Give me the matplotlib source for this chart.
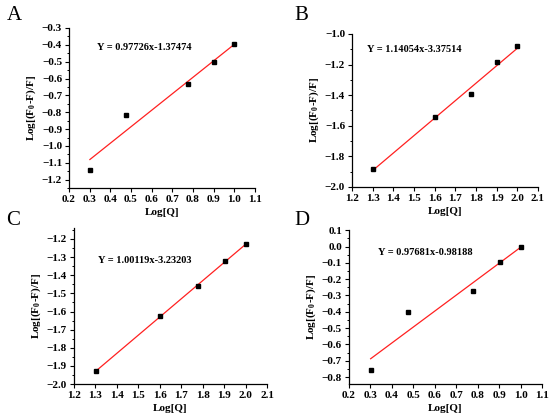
import numpy as np
import matplotlib.pyplot as plt
from matplotlib.ticker import MultipleLocator, AutoMinorLocator

# --- data --------------------------------------------------------------------
logq_a = [0.301, 0.477, 0.778, 0.903, 1.000]
logf_a = [-1.144, -0.815, -0.632, -0.503, -0.398]
fit_a = (0.97726, -1.37474)

logq_b = [1.301, 1.602, 1.778, 1.903, 2.000]
logf_b = [-1.880, -1.545, -1.395, -1.185, -1.080]
fit_b = (1.14054, -3.37514)

logq_c = [1.301, 1.602, 1.778, 1.903, 2.000]
logf_c = [-1.930, -1.625, -1.460, -1.320, -1.230]
fit_c = (1.00119, -3.23203)

logq_d = [0.301, 0.477, 0.778, 0.903, 1.000]
logf_d = [-0.755, -0.400, -0.272, -0.098, 0.000]
fit_d = (0.97681, -0.98188)

eq_a = "Y = 0.97726x-1.37474"
eq_b = "Y = 1.14054x-3.37514"
eq_c = "Y = 1.00119x-3.23203"
eq_d = "Y = 0.97681x-0.98188"

plt.rcParams['font.family'] = ['Liberation Serif', 'DejaVu Serif']
plt.rcParams['mathtext.fontset'] = 'custom'
plt.rcParams['mathtext.rm'] = 'Liberation Serif:bold'
plt.rcParams['mathtext.bf'] = 'Liberation Serif:bold'

fig = plt.figure(figsize=(5.5, 4.17), dpi=100)


def panel(rect, x, y, fit, eq, eqpos, xlim, ylim, ystep, letter, letterpos):
    ax = fig.add_axes(rect)
    xs = np.array([x[0], x[-1]])
    ax.plot(xs, fit[0] * xs + fit[1], color="#ff2020", lw=0.9, zorder=2)
    ax.plot(x, y, "s", color="black", ms=2.8, zorder=3)
    ax.set_xlim(*xlim)
    ax.set_ylim(*ylim)
    ax.xaxis.set_major_locator(MultipleLocator(0.1))
    ax.yaxis.set_major_locator(MultipleLocator(ystep))
    ax.yaxis.set_minor_locator(AutoMinorLocator(2))
    ax.spines["top"].set_visible(False)
    ax.spines["right"].set_visible(False)
    for s in ("left", "bottom"):
        ax.spines[s].set_linewidth(0.9)
    ax.tick_params(which="major", direction="out", length=3, width=0.8,
                   labelsize=8, pad=2)
    ax.tick_params(which="minor", direction="out", length=1.8, width=0.7)
    for lab in ax.get_xticklabels() + ax.get_yticklabels():
        lab.set_fontweight("bold")
    ax.set_xlabel("Log[Q]", fontsize=8, fontweight="bold", labelpad=3)
    ax.set_ylabel(r"Log[(F$_0$-F)/F]", fontsize=8, fontweight="bold", labelpad=3)
    ax.text(eqpos[0], eqpos[1], eq, transform=ax.transAxes, fontsize=7.5,
            fontweight="bold", va="center", ha="left")
    fig.text(letterpos[0], letterpos[1], letter, fontsize=15,
             va="center", ha="left")
    return ax


panel([0.1255, 0.549, 0.338, 0.384], logq_a, logf_a, fit_a, eq_a, (0.15, 0.875),
      (0.2, 1.1), (-1.25, -0.3), 0.1, "A", (0.012, 0.962))
panel([0.640, 0.5516, 0.338, 0.367], logq_b, logf_b, fit_b, eq_b, (0.08, 0.90),
      (1.2, 2.1), (-2.0, -1.0), 0.2, "B", (0.535, 0.962))
panel([0.1345, 0.079, 0.351, 0.374], logq_c, logf_c, fit_c, eq_c, (0.125, 0.795),
      (1.2, 2.1), (-2.0, -1.14), 0.1, "C", (0.012, 0.472))
panel([0.6345, 0.079, 0.351, 0.369], logq_d, logf_d, fit_d, eq_d, (0.15, 0.857),
      (0.2, 1.1), (-0.843, 0.1), 0.1, "D", (0.535, 0.472))

plt.savefig("out.png", dpi=100)
